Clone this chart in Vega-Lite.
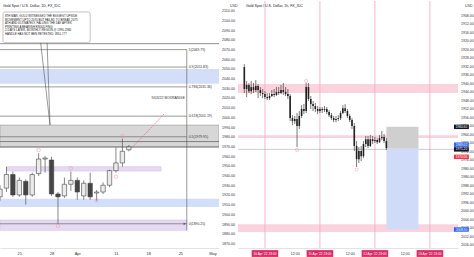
{
"$schema": "https://vega.github.io/schema/vega-lite/v6.json",
"padding": 0,
"spacing": 0,
"background": "white",
"config": {"view": {"stroke": null}, "font": "Liberation Sans",
 "axisX": {"title": null, "ticks": false, "domainColor": "#d0d0d0", "domainWidth": 0.6, "labelFontSize": 4, "labelColor": "#333", "labelPadding": 3, "labelAngle": 0, "grid": false, "labelOverlap": false, "labelFlush": false, "minExtent": 10, "maxExtent": 10},
 "axisY": {"format": ".2f", "ticks": false, "domain": false, "grid": false, "labelFontSize": 3.6, "labelColor": "#333", "labelPadding": 2.5, "labelOverlap": false, "labelFlush": false, "labelBound": false, "titleAngle": 0, "titleFontSize": 3.5, "titleFontWeight": "normal", "titleColor": "#333", "titleY": 4, "titleAlign": "right", "titleBaseline": "middle"}
},
"datasets": {
"daily": [
{"date":"Mar 16","o":1918,"h":1930,"l":1914,"c":1926},
{"date":"Mar 17","o":1927,"h":1949,"l":1923,"c":1941},
{"date":"Mar 18","o":1941,"h":1944,"l":1918,"c":1920},
{"date":"Mar 21","o":1920,"h":1938,"l":1918,"c":1935},
{"date":"Mar 22","o":1934,"h":1936,"l":1910,"c":1920},
{"date":"Mar 23","o":1920,"h":1943,"l":1918,"c":1941},
{"date":"Mar 24","o":1942,"h":1963,"l":1939.5,"c":1957},
{"date":"Mar 25","o":1957,"h":1960,"l":1943,"c":1958},
{"date":"Mar 28","o":1956,"h":1959.4,"l":1919,"c":1921},
{"date":"Mar 29","o":1921,"h":1923,"l":1890.25,"c":1918},
{"date":"Mar 30","o":1919,"h":1938,"l":1917,"c":1931},
{"date":"Mar 31","o":1931,"h":1944,"l":1924,"c":1935},
{"date":"Apr 1","o":1935,"h":1938,"l":1915,"c":1923},
{"date":"Apr 4","o":1919,"h":1935,"l":1915,"c":1932},
{"date":"Apr 5","o":1932,"h":1943,"l":1915,"c":1918},
{"date":"Apr 6","o":1922,"h":1925,"l":1914,"c":1923},
{"date":"Apr 7","o":1923,"h":1933,"l":1921,"c":1930},
{"date":"Apr 8","o":1930,"h":1946,"l":1928,"c":1945},
{"date":"Apr 11","o":1945,"h":1969,"l":1943,"c":1953},
{"date":"Apr 12","o":1953,"h":1978,"l":1949,"c":1965},
{"date":"Apr 13","o":1966.5,"h":1971.5,"l":1965,"c":1969.5}
],
"hourly": [
{"t":"2022-04-10T14:00:00Z","o":1932.5,"c":1942.8,"l":1931.1,"h":1944.7},
{"t":"2022-04-10T15:00:00Z","o":1942.8,"c":1940.9,"l":1939.1,"h":1946.6},
{"t":"2022-04-10T16:00:00Z","o":1940.9,"c":1943.8,"l":1940.0,"h":1944.7},
{"t":"2022-04-10T17:00:00Z","o":1943.8,"c":1941.9,"l":1939.1,"h":1945.2},
{"t":"2022-04-10T18:00:00Z","o":1941.9,"c":1943.3,"l":1940.0,"h":1944.7},
{"t":"2022-04-10T19:00:00Z","o":1943.3,"c":1941.4,"l":1938.6,"h":1944.2},
{"t":"2022-04-10T20:00:00Z","o":1941.4,"c":1943.3,"l":1940.5,"h":1947.1},
{"t":"2022-04-10T21:00:00Z","o":1943.3,"c":1944.7,"l":1941.9,"h":1946.1},
{"t":"2022-04-10T22:00:00Z","o":1944.7,"c":1945.2,"l":1942.8,"h":1947.1},
{"t":"2022-04-10T23:00:00Z","o":1945.2,"c":1946.6,"l":1943.8,"h":1947.5},
{"t":"2022-04-11T00:00:00Z","o":1946.6,"c":1947.1,"l":1944.7,"h":1948.0},
{"t":"2022-04-11T01:00:00Z","o":1947.1,"c":1946.1,"l":1944.7,"h":1948.0},
{"t":"2022-04-11T02:00:00Z","o":1946.1,"c":1945.2,"l":1943.3,"h":1946.6},
{"t":"2022-04-11T03:00:00Z","o":1945.2,"c":1945.6,"l":1942.8,"h":1946.6},
{"t":"2022-04-11T04:00:00Z","o":1945.6,"c":1944.2,"l":1941.9,"h":1946.1},
{"t":"2022-04-11T05:00:00Z","o":1944.2,"c":1944.7,"l":1941.9,"h":1945.6},
{"t":"2022-04-11T06:00:00Z","o":1944.7,"c":1943.3,"l":1940.9,"h":1945.2},
{"t":"2022-04-11T07:00:00Z","o":1943.3,"c":1944.2,"l":1940.0,"h":1945.6},
{"t":"2022-04-11T08:00:00Z","o":1944.2,"c":1945.2,"l":1941.9,"h":1946.1},
{"t":"2022-04-11T09:00:00Z","o":1945.2,"c":1946.1,"l":1942.8,"h":1947.5},
{"t":"2022-04-11T10:00:00Z","o":1946.1,"c":1956.5,"l":1945.2,"h":1957.9},
{"t":"2022-04-11T11:00:00Z","o":1956.5,"c":1957.9,"l":1955.1,"h":1959.8},
{"t":"2022-04-11T12:00:00Z","o":1957.9,"c":1956.9,"l":1955.5,"h":1959.3},
{"t":"2022-04-11T13:00:00Z","o":1956.9,"c":1960.2,"l":1954.1,"h":1970.1},
{"t":"2022-04-11T14:00:00Z","o":1960.2,"c":1955.5,"l":1953.2,"h":1961.6},
{"t":"2022-04-11T15:00:00Z","o":1955.5,"c":1952.2,"l":1950.4,"h":1956.5},
{"t":"2022-04-11T16:00:00Z","o":1952.2,"c":1953.2,"l":1949.9,"h":1954.6},
{"t":"2022-04-11T17:00:00Z","o":1953.2,"c":1941.9,"l":1940.0,"h":1954.1},
{"t":"2022-04-11T18:00:00Z","o":1941.9,"c":1947.5,"l":1940.0,"h":1948.5},
{"t":"2022-04-11T19:00:00Z","o":1947.5,"c":1949.9,"l":1946.1,"h":1952.2},
{"t":"2022-04-11T20:00:00Z","o":1949.9,"c":1950.8,"l":1948.5,"h":1953.2},
{"t":"2022-04-11T21:00:00Z","o":1950.8,"c":1952.2,"l":1949.4,"h":1953.6},
{"t":"2022-04-11T22:00:00Z","o":1952.2,"c":1953.2,"l":1950.8,"h":1954.6},
{"t":"2022-04-11T23:00:00Z","o":1953.2,"c":1952.2,"l":1951.3,"h":1954.1},
{"t":"2022-04-12T00:00:00Z","o":1952.2,"c":1952.7,"l":1951.3,"h":1954.1},
{"t":"2022-04-12T01:00:00Z","o":1952.7,"c":1952.2,"l":1950.8,"h":1953.6},
{"t":"2022-04-12T02:00:00Z","o":1952.2,"c":1953.6,"l":1951.3,"h":1954.6},
{"t":"2022-04-12T03:00:00Z","o":1953.6,"c":1955.1,"l":1952.7,"h":1956.0},
{"t":"2022-04-12T04:00:00Z","o":1955.1,"c":1956.5,"l":1954.1,"h":1957.4},
{"t":"2022-04-12T05:00:00Z","o":1956.5,"c":1957.4,"l":1955.5,"h":1958.4},
{"t":"2022-04-12T06:00:00Z","o":1957.4,"c":1956.9,"l":1955.5,"h":1958.4},
{"t":"2022-04-12T07:00:00Z","o":1956.9,"c":1956.5,"l":1955.1,"h":1957.9},
{"t":"2022-04-12T08:00:00Z","o":1956.5,"c":1954.1,"l":1953.2,"h":1957.4},
{"t":"2022-04-12T09:00:00Z","o":1954.1,"c":1951.8,"l":1950.4,"h":1954.6},
{"t":"2022-04-12T10:00:00Z","o":1951.8,"c":1953.2,"l":1949.9,"h":1954.1},
{"t":"2022-04-12T11:00:00Z","o":1953.2,"c":1955.5,"l":1952.2,"h":1956.5},
{"t":"2022-04-12T12:00:00Z","o":1955.5,"c":1957.4,"l":1954.6,"h":1958.4},
{"t":"2022-04-12T13:00:00Z","o":1957.4,"c":1960.2,"l":1956.5,"h":1961.6},
{"t":"2022-04-12T14:00:00Z","o":1960.2,"c":1969.6,"l":1958.8,"h":1972.0},
{"t":"2022-04-12T15:00:00Z","o":1969.6,"c":1975.8,"l":1967.3,"h":1979.5},
{"t":"2022-04-12T16:00:00Z","o":1975.8,"c":1972.0,"l":1970.1,"h":1977.6},
{"t":"2022-04-12T17:00:00Z","o":1972.0,"c":1974.4,"l":1969.6,"h":1976.7},
{"t":"2022-04-12T18:00:00Z","o":1974.4,"c":1968.7,"l":1967.3,"h":1975.3},
{"t":"2022-04-12T19:00:00Z","o":1968.7,"c":1966.4,"l":1964.9,"h":1970.1},
{"t":"2022-04-12T20:00:00Z","o":1966.4,"c":1969.6,"l":1964.9,"h":1970.6},
{"t":"2022-04-12T21:00:00Z","o":1969.6,"c":1966.4,"l":1964.5,"h":1970.1},
{"t":"2022-04-12T22:00:00Z","o":1966.4,"c":1967.3,"l":1964.9,"h":1968.7},
{"t":"2022-04-12T23:00:00Z","o":1967.3,"c":1966.8,"l":1965.4,"h":1968.2},
{"t":"2022-04-13T00:00:00Z","o":1966.8,"c":1967.8,"l":1965.9,"h":1968.7},
{"t":"2022-04-13T01:00:00Z","o":1967.8,"c":1965.9,"l":1964.5,"h":1968.2},
{"t":"2022-04-13T02:00:00Z","o":1965.9,"c":1965.4,"l":1962.6,"h":1966.8},
{"t":"2022-04-13T03:00:00Z","o":1965.4,"c":1967.3,"l":1964.0,"h":1968.2},
{"t":"2022-04-13T04:00:00Z","o":1967.3,"c":1970.6,"l":1965.9,"h":1971.5}
]
},
"hconcat": [
{
"width": 219, "height": 247,
"layer": [
{"data": {"values": [{"p":2049.8,"p2":2034.6},{"p":1916.1,"p2":1907.5}]},
 "mark": {"type":"rect","fill":"#d3def9","clip":true},
 "encoding": {"y":{"field":"p","type":"quantitative","scale":{"domain":[1865.3,2119.9],"nice":false,"zero":false},"axis":{"orient":"right","values":[1870,1880,1890,1900,1910,1920,1930,1940,1950,1960,1970,1980,1990,2000,2010,2020,2030,2040,2050,2060,2070,2080,2090,2100,2110],"title":"USD","titleX":18,"minExtent":18,"maxExtent":18}},"y2":{"field":"p2"}}},
{"data": {"values": [{"p":1992,"p2":1969.4}]},
 "mark": {"type":"rect","fill":"#d7d7d7","stroke":"#8a8a8a","strokeWidth":0.5,"clip":true},
 "encoding": {"y":{"field":"p","type":"quantitative","scale":{"domain":[1865.3,2119.9],"nice":false,"zero":false},"axis":{"orient":"right","values":[1870,1880,1890,1900,1910,1920,1930,1940,1950,1960,1970,1980,1990,2000,2010,2020,2030,2040,2050,2060,2070,2080,2090,2100,2110],"title":"USD","titleX":18,"minExtent":18,"maxExtent":18}},"y2":{"field":"p2"}}},
{"data": {"values": [{"date":"Mar 17","date2":"Apr 20","p":1949.1,"p2":1944.6},{"date":"Mar 16","date2":"Apr 26","p":1894.1,"p2":1883.5}]},
 "mark": {"type":"rect","fill":"#e5daf2","stroke":"#cdb9e6","strokeWidth":0.5,"clip":true},
 "encoding": {
  "x":{"field":"date","type":"ordinal","scale":{"type":"point","padding":0,"domain":["Mar 16","Mar 17","Mar 18","Mar 21","Mar 22","Mar 23","Mar 24","Mar 25","Mar 28","Mar 29","Mar 30","Mar 31","Apr 1","Apr 4","Apr 5","Apr 6","Apr 7","Apr 8","Apr 11","Apr 12","Apr 13","Apr 14","Apr 15","Apr 18","Apr 19","Apr 20","Apr 21","Apr 22","Apr 25","Apr 26","Apr 27","Apr 28","Apr 29","May 2","May 3"]},"axis":{"orient":"bottom","values":["Mar 21","Mar 28","Apr 1","Apr 11","Apr 18","Apr 25","May 2"],"labelExpr":"datum.value == 'Apr 1' ? 'Apr' : datum.value == 'May 2' ? 'May' : split(datum.value, ' ')[1]","title":null}},
  "x2":{"field":"date2"},
  "y":{"field":"p","type":"quantitative","scale":{"domain":[1865.3,2119.9],"nice":false,"zero":false},"axis":{"orient":"right","values":[1870,1880,1890,1900,1910,1920,1930,1940,1950,1960,1970,1980,1990,2000,2010,2020,2030,2040,2050,2060,2070,2080,2090,2100,2110],"title":"USD","titleX":18,"minExtent":18,"maxExtent":18}},"y2":{"field":"p2"}}},
{"data": {"values": [{"p":2075.9},{"p":1975},{"p":1969.4}]},
 "mark": {"type":"rule","color":"#444","strokeWidth":0.6,"clip":true},
 "encoding": {"y":{"field":"p","type":"quantitative","scale":{"domain":[1865.3,2119.9],"nice":false,"zero":false},"axis":{"orient":"right","values":[1870,1880,1890,1900,1910,1920,1930,1940,1950,1960,1970,1980,1990,2000,2010,2020,2030,2040,2050,2060,2070,2080,2090,2100,2110],"title":"USD","titleX":18,"minExtent":18,"maxExtent":18}}}},
{"data": {"values": [
  {"date":"Mar 16","date2":"Apr 26","p":2069.79},
  {"date":"Mar 16","date2":"Apr 26","p":2051.83},
  {"date":"Mar 16","date2":"Apr 26","p":2031.36},
  {"date":"Mar 16","date2":"Apr 26","p":2001.19},
  {"date":"Mar 16","date2":"Apr 26","p":1979.95},
  {"date":"Mar 16","date2":"Apr 26","p":1890.25}]},
 "mark": {"type":"rule","color":"#555","strokeWidth":0.6,"clip":true},
 "encoding": {
  "x":{"field":"date","type":"ordinal","scale":{"type":"point","padding":0,"domain":["Mar 16","Mar 17","Mar 18","Mar 21","Mar 22","Mar 23","Mar 24","Mar 25","Mar 28","Mar 29","Mar 30","Mar 31","Apr 1","Apr 4","Apr 5","Apr 6","Apr 7","Apr 8","Apr 11","Apr 12","Apr 13","Apr 14","Apr 15","Apr 18","Apr 19","Apr 20","Apr 21","Apr 22","Apr 25","Apr 26","Apr 27","Apr 28","Apr 29","May 2","May 3"]},"axis":{"orient":"bottom","values":["Mar 21","Mar 28","Apr 1","Apr 11","Apr 18","Apr 25","May 2"],"labelExpr":"datum.value == 'Apr 1' ? 'Apr' : datum.value == 'May 2' ? 'May' : split(datum.value, ' ')[1]","title":null}},
  "x2":{"field":"date2"},
  "y":{"field":"p","type":"quantitative","scale":{"domain":[1865.3,2119.9],"nice":false,"zero":false},"axis":{"orient":"right","values":[1870,1880,1890,1900,1910,1920,1930,1940,1950,1960,1970,1980,1990,2000,2010,2020,2030,2040,2050,2060,2070,2080,2090,2100,2110],"title":"USD","titleX":18,"minExtent":18,"maxExtent":18}}}},
{"data": {"values": [
  {"date":"Apr 26","p":2069.79,"lvl":"1(2069.79)"},
  {"date":"Apr 26","p":2051.83,"lvl":"0.9(2051.83)"},
  {"date":"Apr 26","p":2031.36,"lvl":"0.786(2031.36)"},
  {"date":"Apr 26","p":2001.19,"lvl":"0.618(2001.19)"},
  {"date":"Apr 26","p":1979.95,"lvl":"0.5(1979.95)"},
  {"date":"Apr 26","p":1890.25,"lvl":"0(1890.25)"}]},
 "mark": {"type":"text","align":"left","baseline":"middle","dx":2,"fontSize":3.4,"color":"#333"},
 "encoding": {
  "x":{"field":"date","type":"ordinal","scale":{"type":"point","padding":0,"domain":["Mar 16","Mar 17","Mar 18","Mar 21","Mar 22","Mar 23","Mar 24","Mar 25","Mar 28","Mar 29","Mar 30","Mar 31","Apr 1","Apr 4","Apr 5","Apr 6","Apr 7","Apr 8","Apr 11","Apr 12","Apr 13","Apr 14","Apr 15","Apr 18","Apr 19","Apr 20","Apr 21","Apr 22","Apr 25","Apr 26","Apr 27","Apr 28","Apr 29","May 2","May 3"]},"axis":{"orient":"bottom","values":["Mar 21","Mar 28","Apr 1","Apr 11","Apr 18","Apr 25","May 2"],"labelExpr":"datum.value == 'Apr 1' ? 'Apr' : datum.value == 'May 2' ? 'May' : split(datum.value, ' ')[1]","title":null}},
  "y":{"field":"p","type":"quantitative","scale":{"domain":[1865.3,2119.9],"nice":false,"zero":false},"axis":{"orient":"right","values":[1870,1880,1890,1900,1910,1920,1930,1940,1950,1960,1970,1980,1990,2000,2010,2020,2030,2040,2050,2060,2070,2080,2090,2100,2110],"title":"USD","titleX":18,"minExtent":18,"maxExtent":18}},
  "text":{"field":"lvl"}}},
{"data": {"values": [{"date":"Apr 26","p":2019.9,"lvl":"9/03/22 BOXRANGE"}]},
 "mark": {"type":"text","align":"right","baseline":"middle","dx":-2,"fontSize":3.6,"color":"#333"},
 "encoding": {
  "x":{"field":"date","type":"ordinal","scale":{"type":"point","padding":0,"domain":["Mar 16","Mar 17","Mar 18","Mar 21","Mar 22","Mar 23","Mar 24","Mar 25","Mar 28","Mar 29","Mar 30","Mar 31","Apr 1","Apr 4","Apr 5","Apr 6","Apr 7","Apr 8","Apr 11","Apr 12","Apr 13","Apr 14","Apr 15","Apr 18","Apr 19","Apr 20","Apr 21","Apr 22","Apr 25","Apr 26","Apr 27","Apr 28","Apr 29","May 2","May 3"]},"axis":{"orient":"bottom","values":["Mar 21","Mar 28","Apr 1","Apr 11","Apr 18","Apr 25","May 2"],"labelExpr":"datum.value == 'Apr 1' ? 'Apr' : datum.value == 'May 2' ? 'May' : split(datum.value, ' ')[1]","title":null}},
  "y":{"field":"p","type":"quantitative","scale":{"domain":[1865.3,2119.9],"nice":false,"zero":false},"axis":{"orient":"right","values":[1870,1880,1890,1900,1910,1920,1930,1940,1950,1960,1970,1980,1990,2000,2010,2020,2030,2040,2050,2060,2070,2080,2090,2100,2110],"title":"USD","titleX":18,"minExtent":18,"maxExtent":18}},
  "text":{"field":"lvl"}}},
{"data": {"values": [{"date":"Apr 26","p":2069.79,"p2":1883.5}]},
 "mark": {"type":"rule","color":"#555","strokeWidth":0.6,"clip":true},
 "encoding": {
  "x":{"field":"date","type":"ordinal","scale":{"type":"point","padding":0,"domain":["Mar 16","Mar 17","Mar 18","Mar 21","Mar 22","Mar 23","Mar 24","Mar 25","Mar 28","Mar 29","Mar 30","Mar 31","Apr 1","Apr 4","Apr 5","Apr 6","Apr 7","Apr 8","Apr 11","Apr 12","Apr 13","Apr 14","Apr 15","Apr 18","Apr 19","Apr 20","Apr 21","Apr 22","Apr 25","Apr 26","Apr 27","Apr 28","Apr 29","May 2","May 3"]},"axis":{"orient":"bottom","values":["Mar 21","Mar 28","Apr 1","Apr 11","Apr 18","Apr 25","May 2"],"labelExpr":"datum.value == 'Apr 1' ? 'Apr' : datum.value == 'May 2' ? 'May' : split(datum.value, ' ')[1]","title":null}},
  "y":{"field":"p","type":"quantitative","scale":{"domain":[1865.3,2119.9],"nice":false,"zero":false},"axis":{"orient":"right","values":[1870,1880,1890,1900,1910,1920,1930,1940,1950,1960,1970,1980,1990,2000,2010,2020,2030,2040,2050,2060,2070,2080,2090,2100,2110],"title":"USD","titleX":18,"minExtent":18,"maxExtent":18}},"y2":{"field":"p2"}}},
{"data": {"values": [{"date":"Apr 26","p":1890.25}]},
 "mark": {"type":"point","shape":"triangle-right","filled":true,"color":"#444","size":8,"xOffset":-2},
 "encoding": {
  "x":{"field":"date","type":"ordinal","scale":{"type":"point","padding":0,"domain":["Mar 16","Mar 17","Mar 18","Mar 21","Mar 22","Mar 23","Mar 24","Mar 25","Mar 28","Mar 29","Mar 30","Mar 31","Apr 1","Apr 4","Apr 5","Apr 6","Apr 7","Apr 8","Apr 11","Apr 12","Apr 13","Apr 14","Apr 15","Apr 18","Apr 19","Apr 20","Apr 21","Apr 22","Apr 25","Apr 26","Apr 27","Apr 28","Apr 29","May 2","May 3"]},"axis":{"orient":"bottom","values":["Mar 21","Mar 28","Apr 1","Apr 11","Apr 18","Apr 25","May 2"],"labelExpr":"datum.value == 'Apr 1' ? 'Apr' : datum.value == 'May 2' ? 'May' : split(datum.value, ' ')[1]","title":null}},
  "y":{"field":"p","type":"quantitative","scale":{"domain":[1865.3,2119.9],"nice":false,"zero":false},"axis":{"orient":"right","values":[1870,1880,1890,1900,1910,1920,1930,1940,1950,1960,1970,1980,1990,2000,2010,2020,2030,2040,2050,2060,2070,2080,2090,2100,2110],"title":"USD","titleX":18,"minExtent":18,"maxExtent":18}}}},
{"data": {"values": [{"date":"Mar 24","date2":"Mar 28","p":2076.9,"p2":1992},{"date":"Mar 25","date2":"Mar 28","p":2076.9,"p2":1992}]},
 "mark": {"type":"rule","color":"#555","strokeWidth":0.6,"xOffset":2,"x2Offset":-1.5},
 "encoding": {
  "x":{"field":"date","type":"ordinal","scale":{"type":"point","padding":0,"domain":["Mar 16","Mar 17","Mar 18","Mar 21","Mar 22","Mar 23","Mar 24","Mar 25","Mar 28","Mar 29","Mar 30","Mar 31","Apr 1","Apr 4","Apr 5","Apr 6","Apr 7","Apr 8","Apr 11","Apr 12","Apr 13","Apr 14","Apr 15","Apr 18","Apr 19","Apr 20","Apr 21","Apr 22","Apr 25","Apr 26","Apr 27","Apr 28","Apr 29","May 2","May 3"]},"axis":{"orient":"bottom","values":["Mar 21","Mar 28","Apr 1","Apr 11","Apr 18","Apr 25","May 2"],"labelExpr":"datum.value == 'Apr 1' ? 'Apr' : datum.value == 'May 2' ? 'May' : split(datum.value, ' ')[1]","title":null}},
  "x2":{"field":"date2"},
  "y":{"field":"p","type":"quantitative","scale":{"domain":[1865.3,2119.9],"nice":false,"zero":false},"axis":{"orient":"right","values":[1870,1880,1890,1900,1910,1920,1930,1940,1950,1960,1970,1980,1990,2000,2010,2020,2030,2040,2050,2060,2070,2080,2090,2100,2110],"title":"USD","titleX":18,"minExtent":18,"maxExtent":18}},"y2":{"field":"p2"}}},
{"data": {"values": [{"date":"Mar 16","date2":"Apr 5","p":2108.6,"p2":2076.9}]},
 "mark": {"type":"rect","fill":"white","stroke":"#9a9a9a","strokeWidth":0.6,"cornerRadius":2,"xOffset":3},
 "encoding": {
  "x":{"field":"date","type":"ordinal","scale":{"type":"point","padding":0,"domain":["Mar 16","Mar 17","Mar 18","Mar 21","Mar 22","Mar 23","Mar 24","Mar 25","Mar 28","Mar 29","Mar 30","Mar 31","Apr 1","Apr 4","Apr 5","Apr 6","Apr 7","Apr 8","Apr 11","Apr 12","Apr 13","Apr 14","Apr 15","Apr 18","Apr 19","Apr 20","Apr 21","Apr 22","Apr 25","Apr 26","Apr 27","Apr 28","Apr 29","May 2","May 3"]},"axis":{"orient":"bottom","values":["Mar 21","Mar 28","Apr 1","Apr 11","Apr 18","Apr 25","May 2"],"labelExpr":"datum.value == 'Apr 1' ? 'Apr' : datum.value == 'May 2' ? 'May' : split(datum.value, ' ')[1]","title":null}},
  "x2":{"field":"date2"},
  "y":{"field":"p","type":"quantitative","scale":{"domain":[1865.3,2119.9],"nice":false,"zero":false},"axis":{"orient":"right","values":[1870,1880,1890,1900,1910,1920,1930,1940,1950,1960,1970,1980,1990,2000,2010,2020,2030,2040,2050,2060,2070,2080,2090,2100,2110],"title":"USD","titleX":18,"minExtent":18,"maxExtent":18}},"y2":{"field":"p2"}}},
{"data": {"values": [{"date":"Mar 16","p":2108.6,"note":"8TH MAR, GOLD WITNESSED THE BIGGEST UPSIDE\nMOVEMENT UPTO 2070 BUT FAILED TO BREAK 2075\nATH AND ULTIMATELY, FALLING THE DAY AFTER,\nPRINTING A BEARISH ENGULFING.\n \n2-DAYS LATER, MONTHLY REGION @ 1990-1980\nHANDLE HAS NOT BEN RETESTED. WILL IT?"}]},
 "mark": {"type":"text","align":"left","baseline":"top","dx":5,"dy":3,"fontSize":2.9,"lineHeight":3.6,"lineBreak":"\n","color":"#222"},
 "encoding": {
  "x":{"field":"date","type":"ordinal","scale":{"type":"point","padding":0,"domain":["Mar 16","Mar 17","Mar 18","Mar 21","Mar 22","Mar 23","Mar 24","Mar 25","Mar 28","Mar 29","Mar 30","Mar 31","Apr 1","Apr 4","Apr 5","Apr 6","Apr 7","Apr 8","Apr 11","Apr 12","Apr 13","Apr 14","Apr 15","Apr 18","Apr 19","Apr 20","Apr 21","Apr 22","Apr 25","Apr 26","Apr 27","Apr 28","Apr 29","May 2","May 3"]},"axis":{"orient":"bottom","values":["Mar 21","Mar 28","Apr 1","Apr 11","Apr 18","Apr 25","May 2"],"labelExpr":"datum.value == 'Apr 1' ? 'Apr' : datum.value == 'May 2' ? 'May' : split(datum.value, ' ')[1]","title":null}},
  "y":{"field":"p","type":"quantitative","scale":{"domain":[1865.3,2119.9],"nice":false,"zero":false},"axis":{"orient":"right","values":[1870,1880,1890,1900,1910,1920,1930,1940,1950,1960,1970,1980,1990,2000,2010,2020,2030,2040,2050,2060,2070,2080,2090,2100,2110],"title":"USD","titleX":18,"minExtent":18,"maxExtent":18}},
  "text":{"field":"note"}}},
{"data": {"values": [{"date":"Mar 16","p":2119.9,"note":"Gold Spot / U.S. Dollar, 1D, FX_IDC"}]},
 "mark": {"type":"text","align":"left","baseline":"top","dx":3,"dy":3,"fontSize":3.6,"color":"#131722"},
 "encoding": {
  "x":{"field":"date","type":"ordinal","scale":{"type":"point","padding":0,"domain":["Mar 16","Mar 17","Mar 18","Mar 21","Mar 22","Mar 23","Mar 24","Mar 25","Mar 28","Mar 29","Mar 30","Mar 31","Apr 1","Apr 4","Apr 5","Apr 6","Apr 7","Apr 8","Apr 11","Apr 12","Apr 13","Apr 14","Apr 15","Apr 18","Apr 19","Apr 20","Apr 21","Apr 22","Apr 25","Apr 26","Apr 27","Apr 28","Apr 29","May 2","May 3"]},"axis":{"orient":"bottom","values":["Mar 21","Mar 28","Apr 1","Apr 11","Apr 18","Apr 25","May 2"],"labelExpr":"datum.value == 'Apr 1' ? 'Apr' : datum.value == 'May 2' ? 'May' : split(datum.value, ' ')[1]","title":null}},
  "y":{"field":"p","type":"quantitative","scale":{"domain":[1865.3,2119.9],"nice":false,"zero":false},"axis":{"orient":"right","values":[1870,1880,1890,1900,1910,1920,1930,1940,1950,1960,1970,1980,1990,2000,2010,2020,2030,2040,2050,2060,2070,2080,2090,2100,2110],"title":"USD","titleX":18,"minExtent":18,"maxExtent":18}},
  "text":{"field":"note"}}},
{"data": {"values": [{"date":"Apr 13","date2":"Apr 20","p":1968.4,"p2":2003.4}]},
 "mark": {"type":"rule","color":"#ef5f8a","strokeWidth":0.7,"strokeDash":[2,1],"xOffset":3,"x2Offset":3},
 "encoding": {
  "x":{"field":"date","type":"ordinal","scale":{"type":"point","padding":0,"domain":["Mar 16","Mar 17","Mar 18","Mar 21","Mar 22","Mar 23","Mar 24","Mar 25","Mar 28","Mar 29","Mar 30","Mar 31","Apr 1","Apr 4","Apr 5","Apr 6","Apr 7","Apr 8","Apr 11","Apr 12","Apr 13","Apr 14","Apr 15","Apr 18","Apr 19","Apr 20","Apr 21","Apr 22","Apr 25","Apr 26","Apr 27","Apr 28","Apr 29","May 2","May 3"]},"axis":{"orient":"bottom","values":["Mar 21","Mar 28","Apr 1","Apr 11","Apr 18","Apr 25","May 2"],"labelExpr":"datum.value == 'Apr 1' ? 'Apr' : datum.value == 'May 2' ? 'May' : split(datum.value, ' ')[1]","title":null}},
  "x2":{"field":"date2"},
  "y":{"field":"p","type":"quantitative","scale":{"domain":[1865.3,2119.9],"nice":false,"zero":false},"axis":{"orient":"right","values":[1870,1880,1890,1900,1910,1920,1930,1940,1950,1960,1970,1980,1990,2000,2010,2020,2030,2040,2050,2060,2070,2080,2090,2100,2110],"title":"USD","titleX":18,"minExtent":18,"maxExtent":18}},"y2":{"field":"p2"}}},
{"data": {"name":"daily"},
 "mark": {"type":"rule","color":"#555","strokeWidth":0.7,"clip":true},
 "encoding": {
  "x":{"field":"date","type":"ordinal","scale":{"type":"point","padding":0,"domain":["Mar 16","Mar 17","Mar 18","Mar 21","Mar 22","Mar 23","Mar 24","Mar 25","Mar 28","Mar 29","Mar 30","Mar 31","Apr 1","Apr 4","Apr 5","Apr 6","Apr 7","Apr 8","Apr 11","Apr 12","Apr 13","Apr 14","Apr 15","Apr 18","Apr 19","Apr 20","Apr 21","Apr 22","Apr 25","Apr 26","Apr 27","Apr 28","Apr 29","May 2","May 3"]},"axis":{"orient":"bottom","values":["Mar 21","Mar 28","Apr 1","Apr 11","Apr 18","Apr 25","May 2"],"labelExpr":"datum.value == 'Apr 1' ? 'Apr' : datum.value == 'May 2' ? 'May' : split(datum.value, ' ')[1]","title":null}},
  "y":{"field":"l","type":"quantitative","scale":{"domain":[1865.3,2119.9],"nice":false,"zero":false},"axis":{"orient":"right","values":[1870,1880,1890,1900,1910,1920,1930,1940,1950,1960,1970,1980,1990,2000,2010,2020,2030,2040,2050,2060,2070,2080,2090,2100,2110],"title":"USD","titleX":18,"minExtent":18,"maxExtent":18}},
  "y2":{"field":"h"}}},
{"data": {"name":"daily"},
 "mark": {"type":"bar","width":4.4,"stroke":"#444","strokeWidth":0.6,"clip":true},
 "encoding": {
  "x":{"field":"date","type":"ordinal","scale":{"type":"point","padding":0,"domain":["Mar 16","Mar 17","Mar 18","Mar 21","Mar 22","Mar 23","Mar 24","Mar 25","Mar 28","Mar 29","Mar 30","Mar 31","Apr 1","Apr 4","Apr 5","Apr 6","Apr 7","Apr 8","Apr 11","Apr 12","Apr 13","Apr 14","Apr 15","Apr 18","Apr 19","Apr 20","Apr 21","Apr 22","Apr 25","Apr 26","Apr 27","Apr 28","Apr 29","May 2","May 3"]},"axis":{"orient":"bottom","values":["Mar 21","Mar 28","Apr 1","Apr 11","Apr 18","Apr 25","May 2"],"labelExpr":"datum.value == 'Apr 1' ? 'Apr' : datum.value == 'May 2' ? 'May' : split(datum.value, ' ')[1]","title":null}},
  "y":{"field":"o","type":"quantitative","scale":{"domain":[1865.3,2119.9],"nice":false,"zero":false},"axis":{"orient":"right","values":[1870,1880,1890,1900,1910,1920,1930,1940,1950,1960,1970,1980,1990,2000,2010,2020,2030,2040,2050,2060,2070,2080,2090,2100,2110],"title":"USD","titleX":18,"minExtent":18,"maxExtent":18}},
  "y2":{"field":"c"},
  "fill":{"condition":{"test":"datum.c >= datum.o","value":"#ebebeb"},"value":"#454545"}}},
{"data": {"values": [{"date":"Mar 24","p":1966.3},{"date":"Mar 29","p":1888},{"date":"Mar 31","p":1947.5},{"date":"Apr 6","p":1914.4},{"date":"Apr 11","p":1938.8},{"date":"Apr 12","p":1980.7}]},
 "mark": {"type":"point","shape":"circle","filled":false,"stroke":"#f48fb1","strokeWidth":0.7,"size":12},
 "encoding": {
  "x":{"field":"date","type":"ordinal","scale":{"type":"point","padding":0,"domain":["Mar 16","Mar 17","Mar 18","Mar 21","Mar 22","Mar 23","Mar 24","Mar 25","Mar 28","Mar 29","Mar 30","Mar 31","Apr 1","Apr 4","Apr 5","Apr 6","Apr 7","Apr 8","Apr 11","Apr 12","Apr 13","Apr 14","Apr 15","Apr 18","Apr 19","Apr 20","Apr 21","Apr 22","Apr 25","Apr 26","Apr 27","Apr 28","Apr 29","May 2","May 3"]},"axis":{"orient":"bottom","values":["Mar 21","Mar 28","Apr 1","Apr 11","Apr 18","Apr 25","May 2"],"labelExpr":"datum.value == 'Apr 1' ? 'Apr' : datum.value == 'May 2' ? 'May' : split(datum.value, ' ')[1]","title":null}},
  "y":{"field":"p","type":"quantitative","scale":{"domain":[1865.3,2119.9],"nice":false,"zero":false},"axis":{"orient":"right","values":[1870,1880,1890,1900,1910,1920,1930,1940,1950,1960,1970,1980,1990,2000,2010,2020,2030,2040,2050,2060,2070,2080,2090,2100,2110],"title":"USD","titleX":18,"minExtent":18,"maxExtent":18}}}}
]
},
{
"width": 220, "height": 247,
"layer": [
{"data": {"values": [{"p":1940.5,"p2":1944.7},{"p":2006.4,"p2":2010.1},{"p":1964.5,"p2":1965.9}]},
 "mark": {"type":"rect","fill":"#fbd3df"},
 "encoding": {"y":{"field":"p","type":"quantitative","scale":{"domain":[1901.4,2017.6],"reverse":true,"nice":false,"zero":false},"axis":{"orient":"right","values":[1908,1912,1916,1920,1924,1928,1932,1936,1940,1944,1948,1952,1956,1960,1964,1968,1972,1976,1980,1984,1988,1992,1996,2000,2004,2008,2012,2016],"title":"USD","titleX":14,"labelFontSize":3.5,"minExtent":17,"maxExtent":17}},"y2":{"field":"p2"}}},
{"data": {"values": [{"t":"2022-04-10T23:00:00Z"},{"t":"2022-04-11T23:00:00Z"},{"t":"2022-04-12T23:00:00Z"},{"t":"2022-04-13T23:00:00Z"}]},
 "mark": {"type":"rule","color":"#f5a6c0","strokeWidth":0.8},
 "encoding": {"x":{"field":"t","type":"temporal","scale":{"type":"utc","nice":false,"domain":[{"year":2022,"month":4,"date":10,"hours":13,"minutes":25,"utc":true},{"year":2022,"month":4,"date":14,"hours":9,"minutes":5,"utc":true}]},"axis":{"orient":"bottom","values":[{"year":2022,"month":4,"date":11,"hours":12,"utc":true},{"year":2022,"month":4,"date":12,"hours":12,"utc":true},{"year":2022,"month":4,"date":13,"hours":12,"utc":true}],"labelExpr":"utcFormat(datum.value, '%H:%M')","title":null,"labelFontSize":3.6}}}},
{"data": {"values": [{"p":1971.2}]},
 "mark": {"type":"rule","color":"#9a9a9a","strokeWidth":0.5},
 "encoding": {"y":{"field":"p","type":"quantitative","scale":{"domain":[1901.4,2017.6],"reverse":true,"nice":false,"zero":false},"axis":{"orient":"right","values":[1908,1912,1916,1920,1924,1928,1932,1936,1940,1944,1948,1952,1956,1960,1964,1968,1972,1976,1980,1984,1988,1992,1996,2000,2004,2008,2012,2016],"title":"USD","titleX":14,"labelFontSize":3.5,"minExtent":17,"maxExtent":17}}}},
{"data": {"values": [{"t":"2022-04-13T04:00:00Z","t2":"2022-04-13T18:00:00Z","p":1960.6,"p2":1970.9,"kind":"#cfcfcf"},{"t":"2022-04-13T04:00:00Z","t2":"2022-04-13T18:00:00Z","p":1970.9,"p2":2008.9,"kind":"#cfdbf8"}]},
 "mark": {"type":"rect"},
 "encoding": {
  "x":{"field":"t","type":"temporal","scale":{"type":"utc","nice":false,"domain":[{"year":2022,"month":4,"date":10,"hours":13,"minutes":25,"utc":true},{"year":2022,"month":4,"date":14,"hours":9,"minutes":5,"utc":true}]},"axis":{"orient":"bottom","values":[{"year":2022,"month":4,"date":11,"hours":12,"utc":true},{"year":2022,"month":4,"date":12,"hours":12,"utc":true},{"year":2022,"month":4,"date":13,"hours":12,"utc":true}],"labelExpr":"utcFormat(datum.value, '%H:%M')","title":null,"labelFontSize":3.6}},
  "x2":{"field":"t2"},
  "y":{"field":"p","type":"quantitative","scale":{"domain":[1901.4,2017.6],"reverse":true,"nice":false,"zero":false},"axis":{"orient":"right","values":[1908,1912,1916,1920,1924,1928,1932,1936,1940,1944,1948,1952,1956,1960,1964,1968,1972,1976,1980,1984,1988,1992,1996,2000,2004,2008,2012,2016],"title":"USD","titleX":14,"labelFontSize":3.5,"minExtent":17,"maxExtent":17}},"y2":{"field":"p2"},
  "fill":{"field":"kind","type":"nominal","scale":null}}},
{"data": {"name":"hourly"},
 "mark": {"type":"rule","color":"#222","strokeWidth":0.6},
 "encoding": {
  "x":{"field":"t","type":"temporal","scale":{"type":"utc","nice":false,"domain":[{"year":2022,"month":4,"date":10,"hours":13,"minutes":25,"utc":true},{"year":2022,"month":4,"date":14,"hours":9,"minutes":5,"utc":true}]},"axis":{"orient":"bottom","values":[{"year":2022,"month":4,"date":11,"hours":12,"utc":true},{"year":2022,"month":4,"date":12,"hours":12,"utc":true},{"year":2022,"month":4,"date":13,"hours":12,"utc":true}],"labelExpr":"utcFormat(datum.value, '%H:%M')","title":null,"labelFontSize":3.6}},
  "y":{"field":"l","type":"quantitative","scale":{"domain":[1901.4,2017.6],"reverse":true,"nice":false,"zero":false},"axis":{"orient":"right","values":[1908,1912,1916,1920,1924,1928,1932,1936,1940,1944,1948,1952,1956,1960,1964,1968,1972,1976,1980,1984,1988,1992,1996,2000,2004,2008,2012,2016],"title":"USD","titleX":14,"labelFontSize":3.5,"minExtent":17,"maxExtent":17}},
  "y2":{"field":"h"}}},
{"data": {"name":"hourly"},
 "mark": {"type":"bar","width":1.6,"color":"#222"},
 "encoding": {
  "x":{"field":"t","type":"temporal","scale":{"type":"utc","nice":false,"domain":[{"year":2022,"month":4,"date":10,"hours":13,"minutes":25,"utc":true},{"year":2022,"month":4,"date":14,"hours":9,"minutes":5,"utc":true}]},"axis":{"orient":"bottom","values":[{"year":2022,"month":4,"date":11,"hours":12,"utc":true},{"year":2022,"month":4,"date":12,"hours":12,"utc":true},{"year":2022,"month":4,"date":13,"hours":12,"utc":true}],"labelExpr":"utcFormat(datum.value, '%H:%M')","title":null,"labelFontSize":3.6}},
  "y":{"field":"o","type":"quantitative","scale":{"domain":[1901.4,2017.6],"reverse":true,"nice":false,"zero":false},"axis":{"orient":"right","values":[1908,1912,1916,1920,1924,1928,1932,1936,1940,1944,1948,1952,1956,1960,1964,1968,1972,1976,1980,1984,1988,1992,1996,2000,2004,2008,2012,2016],"title":"USD","titleX":14,"labelFontSize":3.5,"minExtent":17,"maxExtent":17}},
  "y2":{"field":"c"}}},
{"data": {"values": [{"t":"2022-04-11T13:00:00Z","p":1971.4},{"t":"2022-04-11T17:00:00Z","p":1939.0},{"t":"2022-04-12T15:00:00Z","p":1980.7}]},
 "mark": {"type":"point","shape":"circle","filled":false,"stroke":"#f48fb1","strokeWidth":0.7,"size":10},
 "encoding": {
  "x":{"field":"t","type":"temporal","scale":{"type":"utc","nice":false,"domain":[{"year":2022,"month":4,"date":10,"hours":13,"minutes":25,"utc":true},{"year":2022,"month":4,"date":14,"hours":9,"minutes":5,"utc":true}]},"axis":{"orient":"bottom","values":[{"year":2022,"month":4,"date":11,"hours":12,"utc":true},{"year":2022,"month":4,"date":12,"hours":12,"utc":true},{"year":2022,"month":4,"date":13,"hours":12,"utc":true}],"labelExpr":"utcFormat(datum.value, '%H:%M')","title":null,"labelFontSize":3.6}},
  "y":{"field":"p","type":"quantitative","scale":{"domain":[1901.4,2017.6],"reverse":true,"nice":false,"zero":false},"axis":{"orient":"right","values":[1908,1912,1916,1920,1924,1928,1932,1936,1940,1944,1948,1952,1956,1960,1964,1968,1972,1976,1980,1984,1988,1992,1996,2000,2004,2008,2012,2016],"title":"USD","titleX":14,"labelFontSize":3.5,"minExtent":17,"maxExtent":17}}}},
{"data": {"values": [
  {"ta":"2022-04-10T17:12:00Z","tb":"2022-04-11T04:48:00Z","p":2018.6,"p2":2021.8,"bg":"#dd2a66"},
  {"ta":"2022-04-11T17:12:00Z","tb":"2022-04-12T04:48:00Z","p":2018.6,"p2":2021.8,"bg":"#dd2a66"},
  {"ta":"2022-04-12T17:12:00Z","tb":"2022-04-13T04:48:00Z","p":2018.6,"p2":2021.8,"bg":"#dd2a66"},
  {"ta":"2022-04-13T17:12:00Z","tb":"2022-04-14T04:48:00Z","p":2018.6,"p2":2021.8,"bg":"#dd2a66"},
  {"ta":"2022-04-14T09:30:00Z","tb":"2022-04-14T16:00:00Z","p":1959.55,"p2":1961.65,"bg":"#131722"},
  {"ta":"2022-04-14T09:30:00Z","tb":"2022-04-14T16:00:00Z","p":1967.95,"p2":1970.05,"bg":"#2962ff"},
  {"ta":"2022-04-14T09:30:00Z","tb":"2022-04-14T16:00:00Z","p":1970.15,"p2":1972.25,"bg":"#131722"},
  {"ta":"2022-04-14T09:30:00Z","tb":"2022-04-14T16:00:00Z","p":1973.65,"p2":1975.75,"bg":"#f23645"},
  {"ta":"2022-04-14T09:30:00Z","tb":"2022-04-14T16:00:00Z","p":2007.85,"p2":2009.95,"bg":"#2962ff"}]},
 "mark": {"type":"rect"},
 "encoding": {
  "x":{"field":"ta","type":"temporal","scale":{"type":"utc","nice":false,"domain":[{"year":2022,"month":4,"date":10,"hours":13,"minutes":25,"utc":true},{"year":2022,"month":4,"date":14,"hours":9,"minutes":5,"utc":true}]},"axis":{"orient":"bottom","values":[{"year":2022,"month":4,"date":11,"hours":12,"utc":true},{"year":2022,"month":4,"date":12,"hours":12,"utc":true},{"year":2022,"month":4,"date":13,"hours":12,"utc":true}],"labelExpr":"utcFormat(datum.value, '%H:%M')","title":null,"labelFontSize":3.6}},
  "x2":{"field":"tb"},
  "y":{"field":"p","type":"quantitative","scale":{"domain":[1901.4,2017.6],"reverse":true,"nice":false,"zero":false},"axis":{"orient":"right","values":[1908,1912,1916,1920,1924,1928,1932,1936,1940,1944,1948,1952,1956,1960,1964,1968,1972,1976,1980,1984,1988,1992,1996,2000,2004,2008,2012,2016],"title":"USD","titleX":14,"labelFontSize":3.5,"minExtent":17,"maxExtent":17}},"y2":{"field":"p2"},
  "fill":{"field":"bg","type":"nominal","scale":null}}},
{"data": {"values": [
  {"t":"2022-04-10T23:00:00Z","p":2020.2,"label":"10 Apr '22  23:00"},
  {"t":"2022-04-11T23:00:00Z","p":2020.2,"label":"11 Apr '22  23:00"},
  {"t":"2022-04-12T23:00:00Z","p":2020.2,"label":"12 Apr '22  23:00"},
  {"t":"2022-04-13T23:00:00Z","p":2020.2,"label":"13 Apr '22  23:00"},
  {"t":"2022-04-14T12:45:00Z","p":1960.6,"label":"1960.60"},
  {"t":"2022-04-14T12:45:00Z","p":1969.0,"label":"1969.02"},
  {"t":"2022-04-14T12:45:00Z","p":1971.2,"label":"1971.20"},
  {"t":"2022-04-14T12:45:00Z","p":1974.7,"label":"1974.66"},
  {"t":"2022-04-14T12:45:00Z","p":2008.9,"label":"2008.90"}]},
 "mark": {"type":"text","fontSize":3.2,"color":"white","align":"center","baseline":"middle"},
 "encoding": {
  "x":{"field":"t","type":"temporal","scale":{"type":"utc","nice":false,"domain":[{"year":2022,"month":4,"date":10,"hours":13,"minutes":25,"utc":true},{"year":2022,"month":4,"date":14,"hours":9,"minutes":5,"utc":true}]},"axis":{"orient":"bottom","values":[{"year":2022,"month":4,"date":11,"hours":12,"utc":true},{"year":2022,"month":4,"date":12,"hours":12,"utc":true},{"year":2022,"month":4,"date":13,"hours":12,"utc":true}],"labelExpr":"utcFormat(datum.value, '%H:%M')","title":null,"labelFontSize":3.6}},
  "y":{"field":"p","type":"quantitative","scale":{"domain":[1901.4,2017.6],"reverse":true,"nice":false,"zero":false},"axis":{"orient":"right","values":[1908,1912,1916,1920,1924,1928,1932,1936,1940,1944,1948,1952,1956,1960,1964,1968,1972,1976,1980,1984,1988,1992,1996,2000,2004,2008,2012,2016],"title":"USD","titleX":14,"labelFontSize":3.5,"minExtent":17,"maxExtent":17}},
  "text":{"field":"label"}}},
{"data": {"values": [{"t":"2022-04-10T13:25:00Z","p":1901.4,"label":"Gold Spot / U.S. Dollar, 1h, FX_IDC"}]},
 "mark": {"type":"text","fontSize":3.6,"color":"#131722","align":"left","baseline":"top","dx":3,"dy":3},
 "encoding": {
  "x":{"field":"t","type":"temporal","scale":{"type":"utc","nice":false,"domain":[{"year":2022,"month":4,"date":10,"hours":13,"minutes":25,"utc":true},{"year":2022,"month":4,"date":14,"hours":9,"minutes":5,"utc":true}]},"axis":{"orient":"bottom","values":[{"year":2022,"month":4,"date":11,"hours":12,"utc":true},{"year":2022,"month":4,"date":12,"hours":12,"utc":true},{"year":2022,"month":4,"date":13,"hours":12,"utc":true}],"labelExpr":"utcFormat(datum.value, '%H:%M')","title":null,"labelFontSize":3.6}},
  "y":{"field":"p","type":"quantitative","scale":{"domain":[1901.4,2017.6],"reverse":true,"nice":false,"zero":false},"axis":{"orient":"right","values":[1908,1912,1916,1920,1924,1928,1932,1936,1940,1944,1948,1952,1956,1960,1964,1968,1972,1976,1980,1984,1988,1992,1996,2000,2004,2008,2012,2016],"title":"USD","titleX":14,"labelFontSize":3.5,"minExtent":17,"maxExtent":17}},
  "text":{"field":"label"}}}
]
}
]
}
